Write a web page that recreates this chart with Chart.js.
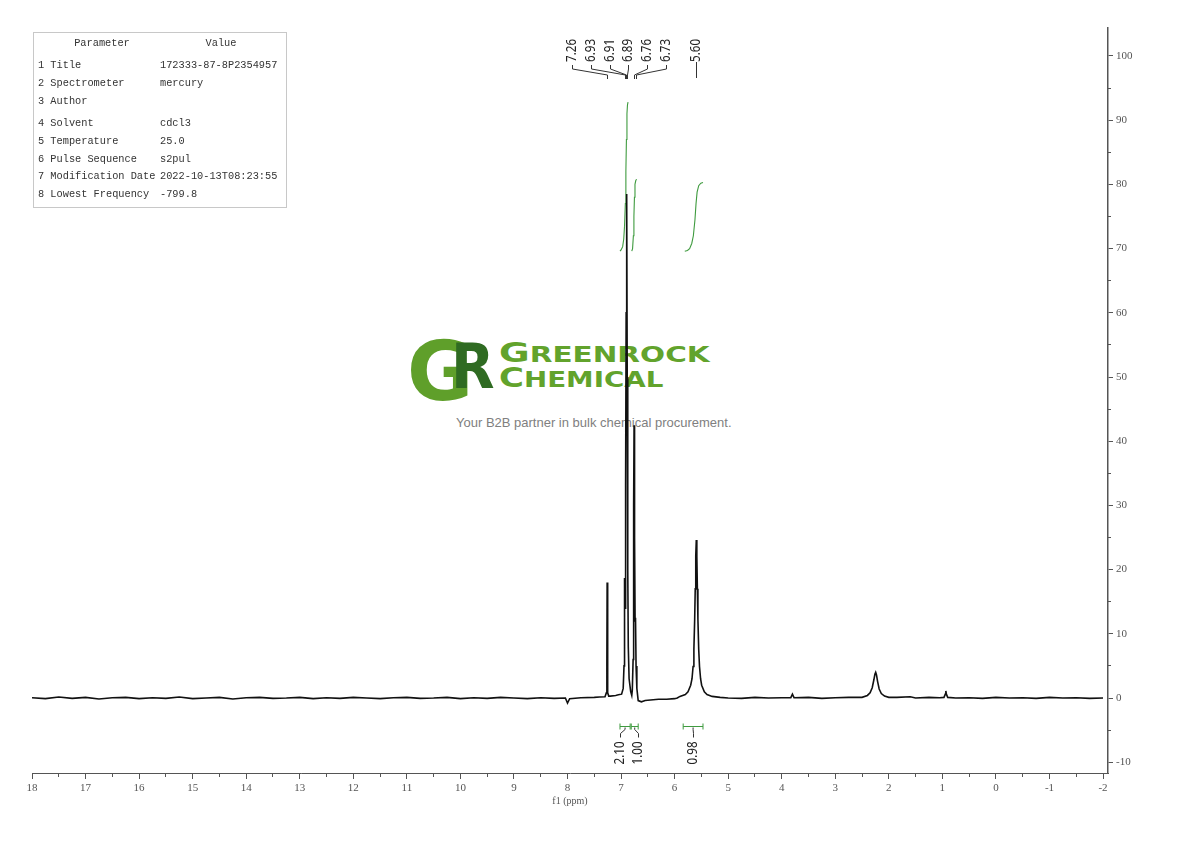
<!DOCTYPE html>
<html>
<head>
<meta charset="utf-8">
<script src="https://cdn.jsdelivr.net/npm/chart.js@4.4.0/dist/chart.umd.min.js"></script>
<style>
html, body { margin: 0; padding: 0; background: #fff; }
#wrap { position: relative; width: 1190px; height: 841px; overflow: hidden; }
#chart { position: absolute; left: 0; top: 0; z-index: 2; }
.logo { position: absolute; line-height: 1; white-space: nowrap; font-family: "DejaVu Sans", sans-serif; font-weight: bold; z-index: 1; transform-origin: 0 0; }
#tagline { position: absolute; left: 456px; top: 415px; line-height: 1; font: 13px "Liberation Sans", Arial, sans-serif; color: #808080; white-space: nowrap; z-index: 1; }
#params { position: absolute; left: 33px; top: 32px; width: 252px; height: 174px; border: 1px solid #c8c8c8; font-family: "Liberation Mono", monospace; font-size: 10.3px; color: #333; z-index: 3; }
#params div { position: absolute; line-height: 14px; white-space: nowrap; }
</style>
</head>
<body>
<div id="wrap">
  <div class="logo" id="logoG" style="left:407px; top:331px; font-size:82px; color:#5f9f2a;">G</div>
  <div class="logo" id="logoR" style="left:451px; top:335px; font-size:63px; color:#2f6b22;">R</div>
  <div class="logo" id="logo1" style="left:499px; top:340px; font-size:26px; color:#62a32c;">G<span style="font-size:20.5px">REENROCK</span></div>
  <div class="logo" id="logo2" style="left:499px; top:364px; font-size:27px; color:#62a32c;">C<span style="font-size:22px">HEMICAL</span></div>
  <div id="tagline">Your B2B partner in bulk chemical procurement.</div>
  <div id="params"></div>
  <canvas id="chart" width="1190" height="841"></canvas>
</div>
<script>
/* -----------------------------------------------------------
   DATA
----------------------------------------------------------- */

const paramNames = ["1 Title", "2 Spectrometer", "3 Author", "4 Solvent", "5 Temperature",
                    "6 Pulse Sequence", "7 Modification Date", "8 Lowest Frequency"];
const paramValues = ["172333-87-8P2354957", "mercury", "", "cdcl3", "25.0",
                     "s2pul", "2022-10-13T08:23:55", "-799.8"];

// [ppm, intensity]
const baseline = [
    [18, 0.05], [17.75, -0.1], [17.5, 0.15], [17.25, -0.05], [17, 0.1], [16.75, -0.15],
    [16.5, 0.05], [16.25, 0.1], [16, -0.1], [15.75, 0.05], [15.5, -0.05], [15.25, 0.15],
    [15, -0.1], [14.75, 0], [14.5, 0.1], [14.25, -0.15], [14, 0.05], [13.75, 0.1],
    [13.5, -0.05], [13.25, 0], [13, 0.1], [12.75, -0.1], [12.5, 0.05], [12.25, -0.05],
    [12, 0.1], [11.75, 0], [11.5, -0.1], [11.25, 0.05], [11, 0.1], [10.75, -0.05],
    [10.5, 0], [10.25, 0.1], [10, -0.1], [9.75, 0.05], [9.5, -0.05], [9.25, 0.1],
    [9, 0], [8.75, -0.1], [8.5, 0.05], [8.25, -0.05], [8.04, 0], [8.0, -0.8], [7.96, -0.1],
    [7.75, 0.05], [7.5, 0.1], [7.4, 0.15],
    [7.2, 0.3], [7.1, 0.4], [7.05, 0.5],
    [6.68, -0.4], [6.62, -0.6], [6.55, -0.4], [6.45, -0.3], [6.3, -0.2], [6.15, -0.2],
    [6.0, -0.1], [5.95, 0],
    [5.15, 0.1], [5.0, 0], [4.75, -0.05], [4.5, 0.1], [4.25, 0], [4.0, 0.05],
    [3.5, 0.1], [3.25, -0.05], [3.0, 0.05], [2.75, 0.1], [2.6, 0.1],
    [1.85, 0.1], [1.6, 0.2], [1.5, 0], [1.25, 0.1], [1.05, 0.05],
    [0.75, 0], [0.5, 0.05], [0.25, -0.05], [0, 0.1], [-0.25, 0], [-0.5, 0.05],
    [-0.75, -0.05], [-1, 0.1], [-1.25, 0], [-1.5, 0.05], [-1.75, -0.05], [-2, 0]
];

const peakCDCl3 = [
    [7.30, 0.2], [7.275, 0.8], [7.265, 5], [7.26, 18], [7.255, 5], [7.245, 0.8], [7.23, 0.3]
];

const peakAromatic = [
    [6.99, 0.6], [6.96, 1.5], [6.945, 5], [6.935, 18.7], [6.925, 14], [6.915, 33],
    [6.905, 60], [6.895, 78.5], [6.885, 50], [6.875, 20], [6.865, 8], [6.85, 3],
    [6.82, 1], [6.80, 0.4], [6.79, 1.2], [6.775, 6], [6.765, 30], [6.757, 42.5],
    [6.748, 25], [6.738, 12], [6.73, 12.5], [6.72, 5], [6.705, 1.5]
];

const peakNH = [
    [5.90, 0.25], [5.80, 0.55], [5.75, 0.95], [5.70, 2.0], [5.675, 3.0], [5.655, 4.9],
    [5.64, 7.6], [5.625, 12.3], [5.615, 17.0], [5.605, 22.1], [5.595, 24.6],
    [5.585, 22.1], [5.575, 17.0], [5.565, 12.3], [5.55, 7.6], [5.535, 4.9],
    [5.515, 3.0], [5.495, 2.0], [5.445, 0.95], [5.395, 0.55], [5.30, 0.25]
];

const peakMinor = [
    [3.83, 0.05], [3.80, 0.6], [3.77, 0.05],
    [2.50, 0.1], [2.40, 0.4], [2.35, 0.8], [2.31, 1.6], [2.28, 2.8], [2.26, 3.7],
    [2.245, 4.0], [2.23, 3.6], [2.21, 2.6], [2.18, 1.4], [2.14, 0.7], [2.08, 0.3], [2.0, 0.1],
    [0.97, 0.1], [0.945, 0.6], [0.935, 1.1], [0.925, 0.6], [0.90, 0.1]
];

const integral1 = [
    [7.02, 69.6], [7.00, 69.8], [6.97, 70.3], [6.95, 71.5], [6.935, 73.5], [6.92, 77],
    [6.91, 82], [6.90, 87], [6.89, 91], [6.88, 92.4], [6.87, 92.8]
];
const integral2 = [
    [6.80, 69.6], [6.785, 70], [6.77, 72], [6.76, 75], [6.75, 78], [6.74, 80],
    [6.725, 80.6], [6.71, 80.8]
];
const integral3 = [
    [5.81, 69.6], [5.76, 69.7], [5.72, 70.0], [5.68, 70.8], [5.65, 72], [5.62, 74.5],
    [5.60, 77], [5.58, 78.8], [5.55, 79.8], [5.51, 80.2], [5.47, 80.3]
];

const peakLabelPpm = [7.26, 6.93, 6.91, 6.89, 6.76, 6.73, 5.60];
const peakLabelText = ["7.26", "6.93", "6.91", "6.89", "6.76", "6.73", "5.60"];

const integralFrom = [7.02, 6.81, 5.84];
const integralTo = [6.83, 6.68, 5.47];
const integralText = ["2.10", "1.00", "0.98"];
const integralLevel = -4.3;

/* -----------------------------------------------------------
   PARAMETER TABLE + LOGO
----------------------------------------------------------- */

const rowTops = [25, 43, 61, 83, 101, 119, 136, 154];

function buildTable() {
    const box = document.getElementById("params");
    const head1 = document.createElement("div");
    head1.style.cssText = "left:0;top:3px;width:136px;text-align:center";
    head1.textContent = "Parameter";
    const head2 = document.createElement("div");
    head2.style.cssText = "left:150px;top:3px;width:74px;text-align:center";
    head2.textContent = "Value";
    box.appendChild(head1);
    box.appendChild(head2);
    paramNames.forEach((name, i) => {
        const a = document.createElement("div");
        a.style.left = "4px";
        a.style.top = rowTops[i] + "px";
        a.textContent = name;
        const b = document.createElement("div");
        b.style.left = "126px";
        b.style.top = rowTops[i] + "px";
        b.textContent = paramValues[i];
        box.appendChild(a);
        box.appendChild(b);
    });
}

function fitWidth(id, w) {
    const el = document.getElementById(id);
    el.style.transform = `scaleX(${w / el.offsetWidth})`;
}

/* -----------------------------------------------------------
   PEAK + INTEGRAL ANNOTATIONS
----------------------------------------------------------- */

function vText(ctx, text, x, yStart) {
    ctx.save();
    ctx.translate(x, yStart);
    ctx.rotate(-Math.PI / 2);
    ctx.scale(0.86, 1);
    ctx.textAlign = "left";
    ctx.textBaseline = "middle";
    ctx.fillText(text, 0, 0);
    ctx.restore();
}

const annotate = {
    id: "annotate",
    afterDatasetsDraw(chart) {
        const ctx = chart.ctx;
        const x = chart.scales.x;
        const y = chart.scales.y;
        ctx.save();
        ctx.font = '13.5px "Noto Sans", "Open Sans", sans-serif';
        ctx.fillStyle = "#222";
        ctx.strokeStyle = "#333";
        ctx.lineWidth = 1;

        // peak picking labels
        const x0 = x.getPixelForValue(peakLabelPpm[0]) - 35;
        peakLabelPpm.forEach((ppm, i) => {
            const px = Math.round(x.getPixelForValue(ppm)) + 0.5;
            const last = i === peakLabelPpm.length - 1;
            const lx = last ? px : Math.round(x0 + i * 18.7) + 0.5;
            vText(ctx, peakLabelText[i], lx, 62);
            ctx.beginPath();
            if (last) {
                ctx.moveTo(lx, 62);
                ctx.lineTo(lx, 78);
            } else {
                ctx.moveTo(lx, 65);
                ctx.lineTo(lx, 69);
                ctx.lineTo(px, 75);
                ctx.lineTo(px, 79);
            }
            ctx.stroke();
        });

        // integral brackets
        const by = Math.round(y.getPixelForValue(integralLevel)) + 0.5;
        const shift = [-5, 3.5, 0];
        integralText.forEach((t, i) => {
            const a = x.getPixelForValue(integralFrom[i]);
            const b = x.getPixelForValue(integralTo[i]);
            const c = (a + b) / 2;
            const lx = Math.round(c + shift[i]) + 0.5;
            ctx.strokeStyle = "#3f9b3f";
            ctx.beginPath();
            ctx.moveTo(a, by); ctx.lineTo(b, by);
            ctx.moveTo(a, by - 3); ctx.lineTo(a, by + 3);
            ctx.moveTo(b, by - 3); ctx.lineTo(b, by + 3);
            ctx.stroke();
            ctx.strokeStyle = "#333";
            ctx.beginPath();
            ctx.moveTo(c, by + 1);
            ctx.lineTo(c, by + 3);
            ctx.lineTo(lx, by + 7);
            ctx.lineTo(lx, by + 11);
            ctx.stroke();
            vText(ctx, t, lx, by + 38);
        });
        ctx.restore();
    }
};

/* -----------------------------------------------------------
   CHART
----------------------------------------------------------- */

const toXY = arr => arr.map(p => ({ x: p[0], y: p[1] }));

const spectrum = [].concat(baseline, peakCDCl3, peakAromatic, peakNH, peakMinor)
    .sort((a, b) => b[0] - a[0]);

const serif = '"Liberation Serif", "DejaVu Serif", serif';
const green = "#3f9b3f";

const X_MIN = -2.093, X_MAX = 18;
const Y_MIN = -11.68, Y_MAX = 104.36;

function keepStep(step, lo, hi, skip) {
    return scale => {
        scale.ticks = scale.ticks.filter(t => {
            const k = t.value / step;
            if (Math.abs(k - Math.round(k)) > 1e-6) return false;
            if (t.value < lo - 1e-6 || t.value > hi + 1e-6) return false;
            if (skip && Math.abs(t.value / skip - Math.round(t.value / skip)) < 1e-6) return false;
            return true;
        });
    };
}

function renderSpectrum() {
    const ctx = document.getElementById("chart").getContext("2d");
    new Chart(ctx, {
        type: "scatter",
        data: {
            datasets: [
                { data: toXY(spectrum), showLine: true, borderColor: "#111", borderWidth: 1.6,
                  pointRadius: 0, xAxisID: "x", yAxisID: "y" },
                { data: toXY(integral1), showLine: true, borderColor: green, borderWidth: 1.1,
                  pointRadius: 0, xAxisID: "x", yAxisID: "y" },
                { data: toXY(integral2), showLine: true, borderColor: green, borderWidth: 1.1,
                  pointRadius: 0, xAxisID: "x", yAxisID: "y" },
                { data: toXY(integral3), showLine: true, borderColor: green, borderWidth: 1.1,
                  pointRadius: 0, xAxisID: "x", yAxisID: "y" }
            ]
        },
        options: {
            responsive: false,
            animation: false,
            devicePixelRatio: 1,
            layout: { padding: { left: 32, top: 28, right: 42, bottom: 34 } },
            plugins: { legend: { display: false }, tooltip: { enabled: false } },
            scales: {
                x: {
                    type: "linear", position: "bottom", reverse: true, weight: 1,
                    min: X_MIN, max: X_MAX,
                    ticks: { stepSize: 1, includeBounds: false, autoSkip: false, maxRotation: 0,
                             padding: 3, color: "#555", font: { family: serif, size: 11 } },
                    afterBuildTicks: keepStep(1, -2, 18),
                    grid: { drawOnChartArea: false, tickLength: 6, color: "#555" },
                    border: { display: true, color: "#555", width: 1 },
                    title: { display: true, text: "f1 (ppm)", color: "#555",
                             font: { family: serif, size: 10 }, padding: { top: 0, bottom: 0 } },
                    afterFit: s => { s.height = 34; }
                },
                xMinor: {
                    type: "linear", position: "bottom", reverse: true, weight: 0,
                    min: X_MIN, max: X_MAX,
                    ticks: { stepSize: 0.5, includeBounds: false, display: false, autoSkip: false },
                    afterBuildTicks: keepStep(0.5, -2, 18, 1),
                    grid: { drawOnChartArea: false, tickLength: 4, color: "#555" },
                    border: { display: false },
                    afterFit: s => { s.height = 0; }
                },
                y: {
                    type: "linear", position: "right", weight: 1,
                    min: Y_MIN, max: Y_MAX,
                    ticks: { stepSize: 10, includeBounds: false, autoSkip: false, padding: 3,
                             color: "#555", font: { family: serif, size: 11 } },
                    afterBuildTicks: keepStep(10, -10, 100),
                    grid: { drawOnChartArea: false, tickLength: 5, color: "#555" },
                    border: { display: true, color: "#555", width: 1.5 },
                    afterFit: s => { s.width = 40; }
                },
                yMinor: {
                    type: "linear", position: "right", weight: 0,
                    min: Y_MIN, max: Y_MAX,
                    ticks: { stepSize: 5, includeBounds: false, display: false, autoSkip: false },
                    afterBuildTicks: keepStep(5, -10, 100, 10),
                    grid: { drawOnChartArea: false, tickLength: 3, color: "#555" },
                    border: { display: false },
                    afterFit: s => { s.width = 0; }
                }
            }
        },
        plugins: [annotate]
    });
}

window.addEventListener("load", () => {
    buildTable();
    fitWidth("logoG", 66);
    fitWidth("logoR", 44);
    fitWidth("logo1", 210);
    fitWidth("logo2", 165);
    renderSpectrum();
});
</script>
</body>
</html>
